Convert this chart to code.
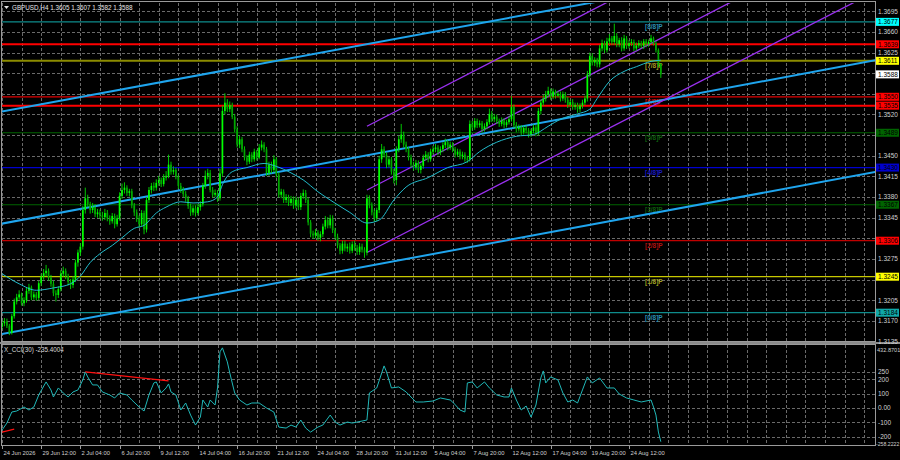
<!DOCTYPE html>
<html>
<head>
<meta charset="utf-8">
<script src="https://cdn.jsdelivr.net/npm/d3@7"></script>
<style>
  html, body { margin: 0; padding: 0; background: #000; }
  svg { display: block; font-family: "Liberation Sans", Arial, sans-serif; }
</style>
</head>
<body>
<svg id="chart" width="900" height="460"></svg>
<script>
// GBPUSD H4 candles, one entry per bar (bar 0 = 24 Jun 2026)
const opens = [
  1.3160,1.3166,1.3169,1.3162,1.3150,1.3178,1.3203,1.3210,1.3215,1.3200,
  1.3205,1.3221,1.3227,1.3210,1.3215,1.3209,1.3234,1.3245,1.3251,1.3255,
  1.3243,1.3233,1.3217,1.3214,1.3224,1.3250,1.3255,1.3246,1.3236,1.3231,
  1.3240,1.3269,1.3286,1.3296,1.3358,1.3378,1.3368,1.3358,1.3363,1.3351,
  1.3354,1.3349,1.3346,1.3353,1.3344,1.3339,1.3348,1.3334,1.3344,1.3382,
  1.3392,1.3396,1.3387,1.3390,1.3366,1.3354,1.3344,1.3334,1.3353,1.3325,
  1.3375,1.3392,1.3399,1.3396,1.3404,1.3409,1.3402,1.3413,1.3416,1.3435,
  1.3423,1.3426,1.3414,1.3399,1.3392,1.3385,1.3378,1.3365,1.3354,1.3361,
  1.3353,1.3363,1.3368,1.3399,1.3416,1.3421,1.3392,1.3384,1.3387,1.3378,
  1.3420,1.3526,1.3540,1.3529,1.3536,1.3516,1.3495,1.3469,1.3478,1.3461,
  1.3447,1.3440,1.3452,1.3444,1.3457,1.3447,1.3464,1.3469,1.3461,1.3421,
  1.3435,1.3426,1.3444,1.3418,1.3384,1.3389,1.3375,1.3380,1.3370,1.3377,
  1.3366,1.3375,1.3363,1.3382,1.3387,1.3375,1.3337,1.3318,1.3315,1.3320,
  1.3311,1.3317,1.3330,1.3341,1.3332,1.3344,1.3324,1.3313,1.3298,1.3289,
  1.3301,1.3293,1.3296,1.3289,1.3300,1.3294,1.3287,1.3296,1.3291,1.3286,
  1.3378,1.3366,1.3354,1.3344,1.3358,1.3444,1.3461,1.3452,1.3435,1.3444,
  1.3423,1.3409,1.3461,1.3478,1.3486,1.3469,1.3461,1.3447,1.3435,1.3430,
  1.3438,1.3426,1.3433,1.3447,1.3452,1.3444,1.3457,1.3461,1.3464,1.3456,
  1.3461,1.3468,1.3473,1.3464,1.3469,1.3461,1.3452,1.3457,1.3449,1.3452,
  1.3445,1.3444,1.3504,1.3498,1.3509,1.3502,1.3505,1.3495,1.3500,1.3507,
  1.3521,1.3512,1.3516,1.3509,1.3504,1.3510,1.3502,1.3507,1.3512,1.3533,
  1.3502,1.3495,1.3498,1.3490,1.3497,1.3493,1.3486,1.3492,1.3498,1.3488,
  1.3526,1.3540,1.3547,1.3554,1.3560,1.3550,1.3559,1.3552,1.3555,1.3547,
  1.3554,1.3545,1.3536,1.3541,1.3533,1.3536,1.3529,1.3535,1.3540,1.3547,
  1.3588,1.3619,1.3608,1.3612,1.3605,1.3632,1.3641,1.3629,1.3644,1.3649,
  1.3643,1.3653,1.3639,1.3646,1.3632,1.3649,1.3636,1.3641,1.3643,1.3632,
  1.3637,1.3641,1.3636,1.3644,1.3639,1.3643,1.3649,1.3641,1.3629,1.3605
];
const highs = [
  1.3172,1.3175,1.3174,1.3165,1.3182,1.3208,1.3216,1.3222,1.3218,1.3210,
  1.3226,1.3233,1.3230,1.3220,1.3219,1.3238,1.3250,1.3258,1.3265,1.3259,
  1.3248,1.3238,1.3222,1.3229,1.3256,1.3262,1.3259,1.3250,1.3241,1.3246,
  1.3274,1.3291,1.3302,1.3365,1.3396,1.3384,1.3372,1.3370,1.3368,1.3360,
  1.3359,1.3355,1.3360,1.3358,1.3349,1.3353,1.3352,1.3350,1.3388,1.3403,
  1.3405,1.3400,1.3394,1.3394,1.3370,1.3359,1.3349,1.3358,1.3357,1.3380,
  1.3397,1.3404,1.3405,1.3410,1.3416,1.3413,1.3419,1.3424,1.3452,1.3440,
  1.3432,1.3430,1.3418,1.3404,1.3397,1.3390,1.3382,1.3369,1.3366,1.3366,
  1.3368,1.3373,1.3404,1.3425,1.3428,1.3426,1.3397,1.3393,1.3392,1.3428,
  1.3535,1.3556,1.3546,1.3542,1.3540,1.3521,1.3500,1.3484,1.3482,1.3466,
  1.3451,1.3457,1.3456,1.3462,1.3460,1.3470,1.3476,1.3473,1.3465,1.3440,
  1.3440,1.3451,1.3448,1.3422,1.3394,1.3393,1.3385,1.3384,1.3382,1.3381,
  1.3381,1.3379,1.3387,1.3393,1.3392,1.3379,1.3341,1.3323,1.3326,1.3324,
  1.3322,1.3335,1.3348,1.3346,1.3350,1.3349,1.3328,1.3318,1.3302,1.3306,
  1.3306,1.3301,1.3303,1.3305,1.3306,1.3299,1.3302,1.3301,1.3295,1.3384,
  1.3383,1.3371,1.3359,1.3362,1.3450,1.3470,1.3466,1.3456,1.3449,1.3448,
  1.3428,1.3466,1.3484,1.3504,1.3491,1.3474,1.3465,1.3452,1.3440,1.3443,
  1.3442,1.3437,1.3452,1.3458,1.3456,1.3462,1.3467,1.3470,1.3468,1.3466,
  1.3473,1.3479,1.3477,1.3474,1.3473,1.3465,1.3462,1.3461,1.3457,1.3456,
  1.3450,1.3510,1.3509,1.3514,1.3513,1.3510,1.3509,1.3505,1.3512,1.3530,
  1.3526,1.3521,1.3520,1.3513,1.3515,1.3514,1.3511,1.3517,1.3551,1.3537,
  1.3507,1.3503,1.3502,1.3501,1.3501,1.3497,1.3496,1.3503,1.3502,1.3531,
  1.3545,1.3553,1.3560,1.3567,1.3564,1.3564,1.3562,1.3560,1.3559,1.3559,
  1.3558,1.3550,1.3545,1.3546,1.3540,1.3540,1.3539,1.3545,1.3552,1.3594,
  1.3625,1.3624,1.3617,1.3616,1.3638,1.3647,1.3645,1.3650,1.3656,1.3653,
  1.3674,1.3658,1.3650,1.3651,1.3655,1.3653,1.3646,1.3648,1.3647,1.3642,
  1.3646,1.3645,1.3648,1.3648,1.3647,1.3655,1.3652,1.3644,1.3632,1.3607
];
const lows = [
  1.3155,1.3161,1.3158,1.3146,1.3147,1.3174,1.3198,1.3206,1.3196,1.3195,
  1.3201,1.3216,1.3205,1.3206,1.3204,1.3205,1.3229,1.3240,1.3246,1.3238,
  1.3228,1.3212,1.3203,1.3209,1.3220,1.3245,1.3241,1.3230,1.3224,1.3226,
  1.3236,1.3262,1.3280,1.3291,1.3352,1.3363,1.3352,1.3353,1.3346,1.3345,
  1.3343,1.3340,1.3341,1.3339,1.3333,1.3335,1.3327,1.3330,1.3340,1.3377,
  1.3386,1.3382,1.3381,1.3361,1.3348,1.3338,1.3328,1.3330,1.3317,1.3320,
  1.3370,1.3386,1.3390,1.3391,1.3399,1.3397,1.3398,1.3408,1.3412,1.3418,
  1.3418,1.3410,1.3394,1.3387,1.3380,1.3372,1.3360,1.3348,1.3349,1.3347,
  1.3349,1.3357,1.3364,1.3394,1.3410,1.3388,1.3379,1.3380,1.3372,1.3374,
  1.3415,1.3520,1.3524,1.3524,1.3512,1.3490,1.3464,1.3463,1.3456,1.3442,
  1.3434,1.3436,1.3439,1.3440,1.3442,1.3444,1.3459,1.3456,1.3416,1.3416,
  1.3420,1.3422,1.3413,1.3379,1.3378,1.3370,1.3370,1.3365,1.3365,1.3360,
  1.3361,1.3358,1.3358,1.3377,1.3370,1.3332,1.3312,1.3309,1.3310,1.3306,
  1.3305,1.3312,1.3325,1.3327,1.3327,1.3319,1.3308,1.3293,1.3283,1.3284,
  1.3288,1.3287,1.3284,1.3285,1.3289,1.3282,1.3282,1.3286,1.3277,1.3281,
  1.3361,1.3349,1.3338,1.3339,1.3353,1.3438,1.3447,1.3429,1.3430,1.3418,
  1.3403,1.3400,1.3456,1.3472,1.3464,1.3456,1.3442,1.3430,1.3425,1.3426,
  1.3421,1.3420,1.3428,1.3442,1.3439,1.3440,1.3452,1.3456,1.3451,1.3451,
  1.3456,1.3463,1.3459,1.3460,1.3456,1.3447,1.3448,1.3444,1.3444,1.3440,
  1.3438,1.3440,1.3493,1.3494,1.3497,1.3498,1.3490,1.3491,1.3495,1.3503,
  1.3507,1.3507,1.3504,1.3499,1.3500,1.3497,1.3498,1.3503,1.3508,1.3497,
  1.3490,1.3491,1.3485,1.3486,1.3488,1.3481,1.3482,1.3488,1.3483,1.3484,
  1.3520,1.3535,1.3542,1.3549,1.3545,1.3546,1.3547,1.3549,1.3542,1.3543,
  1.3540,1.3531,1.3532,1.3528,1.3528,1.3523,1.3524,1.3530,1.3536,1.3542,
  1.3583,1.3603,1.3602,1.3600,1.3600,1.3627,1.3624,1.3625,1.3639,1.3638,
  1.3638,1.3634,1.3634,1.3627,1.3628,1.3631,1.3632,1.3636,1.3627,1.3628,
  1.3633,1.3632,1.3631,1.3634,1.3635,1.3639,1.3637,1.3625,1.3600,1.3582
];
const closes = [
  1.3166,1.3169,1.3162,1.3150,1.3178,1.3203,1.3210,1.3215,1.3200,1.3205,
  1.3221,1.3227,1.3210,1.3215,1.3209,1.3234,1.3245,1.3251,1.3255,1.3243,
  1.3233,1.3217,1.3214,1.3224,1.3250,1.3255,1.3246,1.3236,1.3231,1.3240,
  1.3269,1.3286,1.3296,1.3358,1.3378,1.3368,1.3358,1.3363,1.3351,1.3354,
  1.3349,1.3346,1.3353,1.3344,1.3339,1.3348,1.3334,1.3344,1.3382,1.3392,
  1.3396,1.3387,1.3390,1.3366,1.3354,1.3344,1.3334,1.3353,1.3325,1.3375,
  1.3392,1.3399,1.3396,1.3404,1.3409,1.3402,1.3413,1.3416,1.3435,1.3423,
  1.3426,1.3414,1.3399,1.3392,1.3385,1.3378,1.3365,1.3354,1.3361,1.3353,
  1.3363,1.3368,1.3399,1.3416,1.3421,1.3392,1.3384,1.3387,1.3378,1.3420,
  1.3526,1.3540,1.3529,1.3536,1.3516,1.3495,1.3469,1.3478,1.3461,1.3447,
  1.3440,1.3452,1.3444,1.3457,1.3447,1.3464,1.3469,1.3461,1.3421,1.3435,
  1.3426,1.3444,1.3418,1.3384,1.3389,1.3375,1.3380,1.3370,1.3377,1.3366,
  1.3375,1.3363,1.3382,1.3387,1.3375,1.3337,1.3318,1.3315,1.3320,1.3311,
  1.3317,1.3330,1.3341,1.3332,1.3344,1.3324,1.3313,1.3298,1.3289,1.3301,
  1.3293,1.3296,1.3289,1.3300,1.3294,1.3287,1.3296,1.3291,1.3286,1.3378,
  1.3366,1.3354,1.3344,1.3358,1.3444,1.3461,1.3452,1.3435,1.3444,1.3423,
  1.3409,1.3461,1.3478,1.3486,1.3469,1.3461,1.3447,1.3435,1.3430,1.3438,
  1.3426,1.3433,1.3447,1.3452,1.3444,1.3457,1.3461,1.3464,1.3456,1.3461,
  1.3468,1.3473,1.3464,1.3469,1.3461,1.3452,1.3457,1.3449,1.3452,1.3445,
  1.3444,1.3504,1.3498,1.3509,1.3502,1.3505,1.3495,1.3500,1.3507,1.3521,
  1.3512,1.3516,1.3509,1.3504,1.3510,1.3502,1.3507,1.3512,1.3533,1.3502,
  1.3495,1.3498,1.3490,1.3497,1.3493,1.3486,1.3492,1.3498,1.3488,1.3526,
  1.3540,1.3547,1.3554,1.3560,1.3550,1.3559,1.3552,1.3555,1.3547,1.3554,
  1.3545,1.3536,1.3541,1.3533,1.3536,1.3529,1.3535,1.3540,1.3547,1.3588,
  1.3619,1.3608,1.3612,1.3605,1.3632,1.3641,1.3629,1.3644,1.3649,1.3643,
  1.3653,1.3639,1.3646,1.3632,1.3649,1.3636,1.3641,1.3643,1.3632,1.3637,
  1.3641,1.3636,1.3644,1.3639,1.3643,1.3649,1.3641,1.3629,1.3605,1.3588
];

// moving average (bar index, price)
const maBars = [0,7,14,21,28,32,36,40,45,49,54,58,63,67,73,78,84,88,90,94,100,107,112,118,123,129,134,142,149,154,160,165,174,182,190,195,202,210,217,223,228,235,240,243,248,254,259,265,269];
const maValues = [1.3250,1.3233,1.3222,1.3226,1.3233,1.3246,1.3269,1.3284,1.3298,1.3311,1.3327,1.3332,1.3353,1.3363,1.3372,1.3370,1.3372,1.3380,1.3401,1.3423,1.3430,1.3437,1.3432,1.3421,1.3409,1.3389,1.3375,1.3354,1.3336,1.3341,1.3375,1.3397,1.3413,1.3430,1.3440,1.3457,1.3473,1.3483,1.3486,1.3500,1.3512,1.3521,1.3529,1.3547,1.3576,1.3593,1.3601,1.3610,1.3612];

// X_CCI(30) (bar index, value)
const cciBars = [0,2,4,6,9,11,13,15,18,20,21,23,25,27,29,31,33,34,35,37,39,41,44,46,48,51,53,56,58,60,62,63,65,67,68,69,71,73,75,77,79,81,82,84,85,87,88,89,90,92,93,95,97,100,102,105,108,111,113,116,118,120,122,124,126,129,131,134,136,138,141,143,147,149,150,153,156,157,159,162,165,169,172,176,179,183,184,187,189,190,192,194,196,197,199,202,205,207,208,210,212,214,216,218,220,221,222,224,227,229,231,233,235,237,239,241,244,247,250,252,255,258,261,265,266,267,268,269];
const cciValues = [-154,-105,-28,-21,7,-14,7,91,182,126,77,140,105,77,112,126,196,252,217,161,161,112,91,70,105,91,56,7,-21,91,175,182,105,140,168,112,91,-14,35,-49,-119,-63,56,7,56,21,140,392,420,322,245,105,56,21,35,35,0,-28,-133,-140,-119,-133,-84,-140,-168,-133,-119,-49,-98,-119,-98,-105,-91,-84,105,140,294,252,140,147,112,42,42,49,70,56,42,-14,-28,175,182,140,168,182,140,91,77,77,140,56,-14,14,-63,21,210,259,175,217,196,105,42,56,35,126,217,175,210,140,140,98,70,56,42,56,7,-49,-168,-235.4004];
const cciTicks = [250, 200, 100, 0, -100, -200];
const cciTickLabels = ["250", "200", "100", "0.00", "-100", "-200"];
const cciRange = [-258.2222, 432.8701];
const cciLines = [[34, 252, 68, 189], [0, -168, 5, -147]];

// price axis
const priceTicks = [1.3695,1.3660,1.3625,1.3590,1.3555,1.3520,1.3485,1.3450,1.3415,1.3380,1.3345,1.3310,1.3275,1.3240,1.3205,1.3170,1.3135];

// time axis
const timeTickBars = [0,16,32,48,64,80,96,112,128,144,160,176,192,208,224,240,256];
const timeTickLabels = ["24 Jun 2026","29 Jun 12:00","2 Jul 04:00","6 Jul 20:00","9 Jul 12:00","14 Jul 04:00","16 Jul 20:00","21 Jul 12:00","24 Jul 04:00","28 Jul 20:00","31 Jul 12:00","5 Aug 04:00","7 Aug 20:00","12 Aug 12:00","17 Aug 04:00","19 Aug 20:00","24 Aug 12:00"];

// Murrey math levels and extra support / resistance
const murrayLevels = [1.3677,1.3611,1.3550,1.3489,1.3430,1.3367,1.3306,1.3245,1.3184];
const murrayNames = ["[8/8]P","[7/8]P","[6/8]P","[5/8]P","[4/8]P","[3/8]P","[2/8]P","[1/8]P","[0/8]P"];
const srLevels = [1.3639, 1.3535];
const lastPrice = 1.3588;

// trend lines and regression channel (bar, price, bar, price)
const trendLines = [[0,1.3525,120,1.3617],[0,1.3335,300,1.3568],[0,1.3148,300,1.3379]];
const channelLines = [[149,1.3500,240,1.3695],[149,1.3392,240,1.3587],[149,1.3286,240,1.3480]];

const header = "GBPUSD,H4  1.3605 1.3607 1.3582 1.3588";
const cciTitle = "X_CCI(30) -235.4004";

// ---- styles ----
const murrayColors = ["#0e8c8c","#8c8c00","#e00000","#006400","#0000d0","#006400","#c00000","#c8c800","#0e8c8c"];
const murrayTextColors = ["#2b8fb0","#a89a20","#c81010","#0d5c0d","#1a1ac0","#0d5c0d","#b01010","#a0a020","#2b8fb0"];
const boxColors = { "1.3677": "#00ffff", "1.3639": "#ff0000", "1.3611": "#ffff00", "1.3588": "#ffffff",
  "1.3550": "#ff0000", "1.3535": "#ff0000", "1.3489": "#006400", "1.3430": "#0000cd",
  "1.3367": "#006400", "1.3306": "#ff0000", "1.3245": "#ffff00", "1.3184": "#10a8a8" };

const d3r = window.d3;
const svg = d3r.select("#chart");
const W = 900, H = 460;
const left = 2, right = 875, mainTop = 3, mainBot = 341, subTop = 345, subBot = 445;

svg.append("rect").attr("width", W).attr("height", H).attr("fill", "#000");

const x = d3r.scaleLinear().domain([0, 256]).range([2, 629]);
const y = d3r.scaleLinear().domain([1.3136, 1.3709]).range([mainBot, mainTop]);
const yc = d3r.scaleLinear().domain(cciRange).range([subBot, subTop + 1]);
const lastBar = x.invert(right);

const defs = svg.append("defs");
defs.append("clipPath").attr("id", "clipMain").append("rect")
  .attr("x", left).attr("y", mainTop).attr("width", right - left).attr("height", mainBot - mainTop);
defs.append("clipPath").attr("id", "clipSub").append("rect")
  .attr("x", left).attr("y", subTop).attr("width", right - left).attr("height", subBot - subTop);

// ---- grid ----
const gridColor = "#6a6a6a";
const vBars = d3r.range(0, lastBar, 8);
const grid = svg.append("g").attr("stroke", gridColor).attr("stroke-dasharray", "3,2").attr("shape-rendering", "crispEdges");
grid.selectAll(".vm").data(vBars).join("line")
  .attr("x1", d => Math.round(x(d)) + 0.5).attr("x2", d => Math.round(x(d)) + 0.5)
  .attr("y1", mainTop).attr("y2", mainBot);
grid.selectAll(".vs").data(vBars).join("line")
  .attr("x1", d => Math.round(x(d)) + 0.5).attr("x2", d => Math.round(x(d)) + 0.5)
  .attr("y1", subTop).attr("y2", subBot);
grid.selectAll(".hm").data(priceTicks).join("line")
  .attr("x1", left).attr("x2", right)
  .attr("y1", d => Math.round(y(d)) + 0.5).attr("y2", d => Math.round(y(d)) + 0.5);
grid.selectAll(".hs").data(cciTicks).join("line")
  .attr("x1", left).attr("x2", right)
  .attr("y1", d => Math.round(yc(d)) + 0.5).attr("y2", d => Math.round(yc(d)) + 0.5);

// ---- main panel ----
const main = svg.append("g").attr("clip-path", "url(#clipMain)");

// horizontal levels
main.selectAll(".murray").data(murrayLevels).join("line")
  .attr("x1", left).attr("x2", right)
  .attr("y1", d => y(d)).attr("y2", d => y(d))
  .attr("stroke", (d, i) => murrayColors[i])
  .attr("stroke-width", (d, i) => i === 1 ? 2 : 1.2);
main.selectAll(".sr").data(srLevels).join("line")
  .attr("x1", left).attr("x2", right)
  .attr("y1", d => y(d)).attr("y2", d => y(d))
  .attr("stroke", "#ff0000").attr("stroke-width", 2);

main.selectAll(".mname").data(murrayNames).join("text")
  .attr("x", 645).attr("y", (d, i) => y(murrayLevels[i]) + 7.5)
  .attr("font-size", 6.5).attr("font-weight", "bold")
  .attr("fill", (d, i) => murrayTextColors[i])
  .text(d => d);

// trend lines (extended across the panel)
function extend(l, b) {
  const [b0, p0, b1, p1] = l;
  return p0 + (p1 - p0) * (b - b0) / (b1 - b0);
}
main.selectAll(".trend").data(trendLines).join("line")
  .attr("x1", x(-2)).attr("y1", d => y(extend(d, -2)))
  .attr("x2", x(lastBar + 2)).attr("y2", d => y(extend(d, lastBar + 2)))
  .attr("stroke", "#1fa5ee").attr("stroke-width", 2);
main.selectAll(".chan").data(channelLines).join("line")
  .attr("x1", d => x(d[0])).attr("y1", d => y(d[1]))
  .attr("x2", x(lastBar + 2)).attr("y2", d => y(extend(d, lastBar + 2)))
  .attr("stroke", "#9a30f0").attr("stroke-width", 1.3);

// candles
const idx = d3r.range(closes.length);
const bw = 1.7;
main.selectAll(".wick").data(idx).join("line")
  .attr("x1", i => x(i)).attr("x2", i => x(i))
  .attr("y1", i => y(highs[i])).attr("y2", i => y(lows[i]))
  .attr("stroke", "#00dd00").attr("stroke-width", 0.9);
main.selectAll(".body").data(idx).join("rect")
  .attr("x", i => x(i) - bw / 2)
  .attr("y", i => y(Math.max(opens[i], closes[i])))
  .attr("width", bw)
  .attr("height", i => Math.max(1, Math.abs(y(opens[i]) - y(closes[i]))))
  .attr("fill", i => closes[i] >= opens[i] ? "#00ff00" : "#00a800");

// moving average
main.append("path")
  .datum(maBars.map((b, i) => [b, maValues[i]]))
  .attr("fill", "none").attr("stroke", "#22bccc").attr("stroke-width", 1)
  .attr("d", d3r.line().x(d => x(d[0])).y(d => y(d[1])).curve(d3r.curveMonotoneX));

// ---- CCI panel ----
const sub = svg.append("g").attr("clip-path", "url(#clipSub)");
sub.append("path")
  .datum(cciBars.map((b, i) => [b, cciValues[i]]))
  .attr("fill", "none").attr("stroke", "#20b8b8").attr("stroke-width", 1)
  .attr("d", d3r.line().x(d => x(d[0])).y(d => yc(d[1])));
sub.selectAll(".div").data(cciLines).join("line")
  .attr("x1", d => x(d[0])).attr("y1", d => yc(d[1]))
  .attr("x2", d => x(d[2])).attr("y2", d => yc(d[3]))
  .attr("stroke", "#ff1010").attr("stroke-width", 1.2);

// ---- frames ----
const frame = svg.append("g").attr("fill", "none").attr("stroke", "#9a9a9a").attr("shape-rendering", "crispEdges");
frame.append("rect").attr("x", left - 0.5).attr("y", mainTop - 1.5).attr("width", right - left + 1).attr("height", mainBot - mainTop + 2);
frame.append("rect").attr("x", left - 0.5).attr("y", subTop - 0.5).attr("width", right - left + 1).attr("height", subBot - subTop + 1);
svg.append("rect").attr("x", 0).attr("y", mainBot + 1).attr("width", W).attr("height", 2).attr("fill", "#8a8a8a");

// ---- price axis ----
const axisText = "#d0d0d0";
const boxes = murrayLevels.concat(srLevels, [lastPrice]);
// tick labels hidden behind a level box are not drawn
const freeTicks = priceTicks.filter(t => boxes.every(b => Math.abs(y(t) - y(b)) > 7));
svg.append("g").selectAll("text").data(freeTicks).join("text")
  .attr("x", 878).attr("y", d => y(d)).attr("dy", "0.35em")
  .attr("font-size", 6.5).attr("fill", axisText)
  .text(d => d.toFixed(4));

const boxG = svg.append("g").selectAll("g").data(boxes).join("g")
  .attr("transform", d => `translate(876,${y(d)})`);
boxG.append("rect").attr("x", 0).attr("y", -4).attr("width", 23).attr("height", 8)
  .attr("fill", d => boxColors[d.toFixed(4)]);
boxG.append("text").attr("x", 2).attr("dy", "0.35em").attr("font-size", 6.5)
  .attr("fill", "#000").text(d => d.toFixed(4));

// ---- CCI axis ----
svg.append("g").selectAll("text").data(cciTicks).join("text")
  .attr("x", 878).attr("y", d => yc(d)).attr("dy", "0.35em")
  .attr("font-size", 6.5).attr("fill", axisText)
  .text((d, i) => cciTickLabels[i]);
svg.append("text").attr("x", 877).attr("y", subTop + 5).attr("dy", "0.35em")
  .attr("font-size", 5.6).attr("fill", axisText).text(cciRange[1].toFixed(4));
svg.append("text").attr("x", 876).attr("y", subBot - 1).attr("dy", "0.35em")
  .attr("font-size", 5.2).attr("fill", axisText).text(cciRange[0].toFixed(4));

// ---- time axis ----
const tG = svg.append("g").selectAll("g").data(timeTickBars).join("g")
  .attr("transform", d => `translate(${Math.round(x(d)) + 0.5},0)`);
tG.append("line").attr("y1", subBot).attr("y2", subBot + 4).attr("stroke", "#9a9a9a");
tG.append("text").attr("x", 1).attr("y", 455).attr("font-size", 5.8).attr("fill", axisText)
  .text((d, i) => timeTickLabels[i]);

// ---- titles ----
svg.append("path").attr("d", "M4,6 L9,6 L6.5,9 Z").attr("fill", "#e0e0e0");
svg.append("text").attr("x", 12).attr("y", 10).attr("font-size", 6.3).attr("fill", "#e8e8e8").text(header);
svg.append("text").attr("x", 4).attr("y", 352).attr("font-size", 6.3).attr("fill", "#d8d8d8").text(cciTitle);
</script>
</body>
</html>
